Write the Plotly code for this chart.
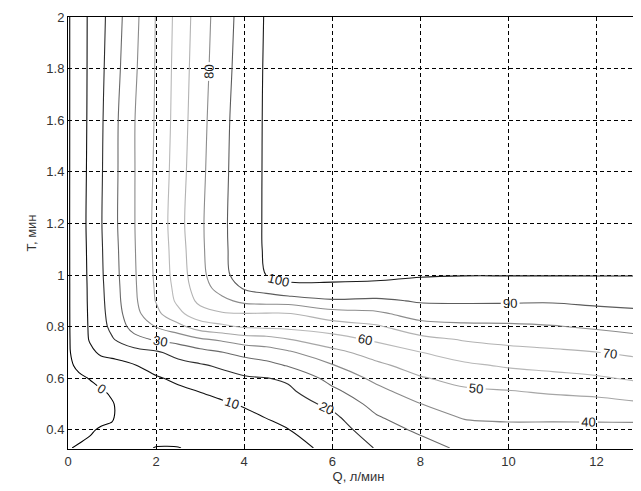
import plotly.graph_objects as go

# Grid of Q (x, л/мин) and T (y, мин)
q_values = [0, 0.25, 0.5, 0.75, 1.0, 1.5, 2.0, 2.5, 3.0, 3.5, 4.0, 4.5, 5.0, 6.0, 7.0, 8.0, 9.0, 10.0, 11.0, 12.0, 13.0, 13.3]
t_values = [0.33, 0.4, 0.45, 0.5, 0.55, 0.6, 0.65, 0.7, 0.75, 0.8, 0.85, 0.9, 0.95, 1.0, 1.1, 1.2, 1.4, 1.6, 1.8, 2.0]

# Estimated surface values (rows follow t_values, columns follow q_values)
row_033 = [-0.3, 0.5, 0.8, 1.0, 1.0, 1.0, -0.15, -0.15, 1.0, 1.5, 2.5, 3.0, 6.0, 13.0, 20.5, 26.0, 32.0, 33.0, 33.0, 33.0, 33.0, 33.0]
row_040 = [-3, -1.5, -0.4, 0.4, 0.5, 1.8, 2.0, 2.5, 3.2, 4.0, 5.5, 7.2, 9.8, 15, 25.5, 31.7, 36.5, 37.5, 37, 37, 36.5, 36.3]
row_045 = [-5, -3.5, -2.5, -1, -0.3, 2.8, 3.5, 4.5, 5.3, 6.3, 8, 10.3, 12.8, 18, 29.2, 35.8, 40.8, 41.6, 41.8, 42, 42.5, 42.7]
row_050 = [-6, -4.5, -3, -1.5, -0.4, 3.8, 5, 6.5, 7.5, 8.8, 10.8, 13.4, 15.6, 22.2, 33.3, 39.8, 44.6, 45.6, 46.4, 47, 48.8, 49.3]
row_055 = [-5, -3.5, -2, -0.5, 0.8, 5, 6.8, 8.5, 10.2, 12.5, 14.8, 16.6, 18.3, 27.8, 37.5, 44.5, 48.5, 49.6, 51.2, 52.5, 55.3, 56]
row_060 = [-3.5, -1.2, 0.3, 2, 3, 6.8, 9.2, 11.5, 14.5, 16.7, 18.8, 19.7, 21.5, 33.5, 42.2, 49.1, 53.2, 55.3, 57, 58.8, 61.6, 62.3]
row_065 = [-1.5, 1.5, 4, 6, 7, 9.5, 13, 16.5, 19, 21.5, 25, 26.9, 30.8, 39.4, 47.8, 54.4, 58.4, 61.1, 62.8, 64.4, 66.8, 67.5]
row_070 = [-1, 3.5, 8, 11.5, 12.5, 16, 18.5, 23.5, 26.5, 29.7, 33, 35.5, 38.5, 46.9, 54.3, 59.8, 64.4, 66.9, 68.3, 69.8, 72.2, 72.9]
row_075 = [-1, 4.5, 10.8, 15, 19, 27, 31, 33.5, 38.5, 41.5, 45, 45.7, 49.5, 56, 61.4, 67.1, 70.7, 72.6, 73.9, 75.6, 77.8, 78.5]
row_080 = [-1, 5, 11.2, 16.5, 22.5, 33.5, 40.3, 47, 55, 58, 61, 62.1, 62.7, 65, 68.6, 76, 77.9, 78.3, 79.4, 81.2, 83.2, 83.8]
row_085 = [-1, 5.2, 11.4, 17.3, 24, 36.5, 47.5, 57.5, 66, 69, 69.6, 69.3, 69.3, 75.7, 78, 84.3, 85, 84.9, 85.3, 87.1, 88.4, 88.8]
row_090 = [-1, 5.3, 11.6, 17.8, 24.8, 38, 50.5, 62, 72.5, 77.5, 82.5, 83.8, 84.3, 88.8, 88, 91, 91.3, 91.2, 90.9, 92, 92.6, 92.8]
row_095 = [-1, 5.3, 11.7, 18.2, 25.2, 38.5, 51.2, 63.5, 75.5, 84, 91, 94.5, 99.3, 99, 98.5, 96, 95.7, 95.6, 95.5, 96, 96.3, 96.4]
row_100 = [-1, 5.4, 11.9, 18.6, 25.7, 38.8, 51.8, 64.7, 77, 87.5, 94.5, 100.1, 100.8, 101.2, 101.2, 100.8, 100.3, 100.3, 100.3, 100.3, 100.3, 100.3]
row_110 = [-1, 5.5, 12.2, 19, 26.2, 39.2, 52.3, 65.5, 78, 88, 95.5, 101, 101.5, 102.5, 102.5, 102, 102, 102, 102, 102, 102, 102]
row_120 = [-1, 5.7, 12.5, 19.4, 26.8, 39.5, 52.6, 66.5, 78.3, 88.1, 96, 101, 102, 103, 103, 103, 103, 103, 103, 103, 103, 103]
row_140 = [-1, 5.5, 12.2, 19, 26.5, 39.5, 51.8, 65.5, 77.5, 87.6, 95.8, 101, 102, 103, 103, 103, 103, 103, 103, 103, 103, 103]
row_160 = [-1, 5.4, 11.9, 18.6, 26.3, 39.5, 51.1, 64.6, 76.7, 87.1, 95.5, 101, 102, 103, 103, 103, 103, 103, 103, 103, 103, 103]
row_180 = [-1, 5.4, 11.7, 18, 25, 38.2, 50.8, 64, 75.8, 86.2, 94.7, 101, 102, 103, 103, 103, 103, 103, 103, 103, 103, 103]
row_200 = [-1, 5.4, 11.6, 17.4, 23.9, 37, 50.5, 63.3, 75, 85.4, 94, 100.8, 101.5, 102.5, 103, 103, 103, 103, 103, 103, 103, 103]

z_values = [row_033, row_040, row_045, row_050, row_055, row_060, row_065, row_070,
            row_075, row_080, row_085, row_090, row_095, row_100, row_110, row_120,
            row_140, row_160, row_180, row_200]

x_ticks = [0, 2, 4, 6, 8, 10, 12]
y_ticks = [0.4, 0.6, 0.8, 1.0, 1.2, 1.4, 1.6, 1.8, 2.0]
y_tick_text = ["0.4", "0.6", "0.8", "1", "1.2", "1.4", "1.6", "1.8", "2"]

line_scale = [
    [0.0, "#000000"], [0.1, "#111111"], [0.2, "#2e2e2e"], [0.3, "#6a6a6a"],
    [0.4, "#8a8a8a"], [0.5, "#a6a6a6"], [0.6, "#b8b8b8"], [0.7, "#b2b2b2"],
    [0.8, "#8c8c8c"], [0.9, "#5c5c5c"], [1.0, "#1a1a1a"],
]

fig = go.Figure(go.Contour(
    x=q_values, y=t_values, z=z_values,
    zmin=0, zmax=100, zauto=False,
    autocontour=False,
    contours=dict(start=0, end=100, size=10, coloring="lines",
                  showlabels=True,
                  labelfont=dict(size=13, color="#222222", family="Liberation Sans")),
    colorscale=line_scale,
    line=dict(width=1.1, smoothing=1.0),
    showscale=False,
    hoverinfo="skip",
))

axis_font = dict(family="Liberation Sans", size=13, color="#333333")
fig.update_layout(
    width=641, height=491,
    margin=dict(l=60, r=0, t=9, b=50),
    paper_bgcolor="white", plot_bgcolor="white",
    showlegend=False,
    font=axis_font,
    xaxis=dict(range=[0, 13.19], tickvals=x_ticks, showgrid=True, gridcolor="black",
               gridwidth=1, griddash="4px,3px", zeroline=False, showline=True,
               linecolor="black", linewidth=1, mirror=True, ticks="inside",
               ticklen=4, tickcolor="black", tickfont=axis_font,
               title=dict(text="Q, л/мин", font=axis_font, standoff=4)),
    yaxis=dict(range=[0.326, 2.0], tickvals=y_ticks, ticktext=y_tick_text,
               showgrid=True, gridcolor="black",
               gridwidth=1, griddash="4px,3px", zeroline=False, showline=True,
               linecolor="black", linewidth=1, mirror=True, ticks="inside",
               ticklen=4, tickcolor="black", tickfont=axis_font,
               title=dict(text="T, мин", font=axis_font, standoff=6)),
)

fig.write_html("out.html")
